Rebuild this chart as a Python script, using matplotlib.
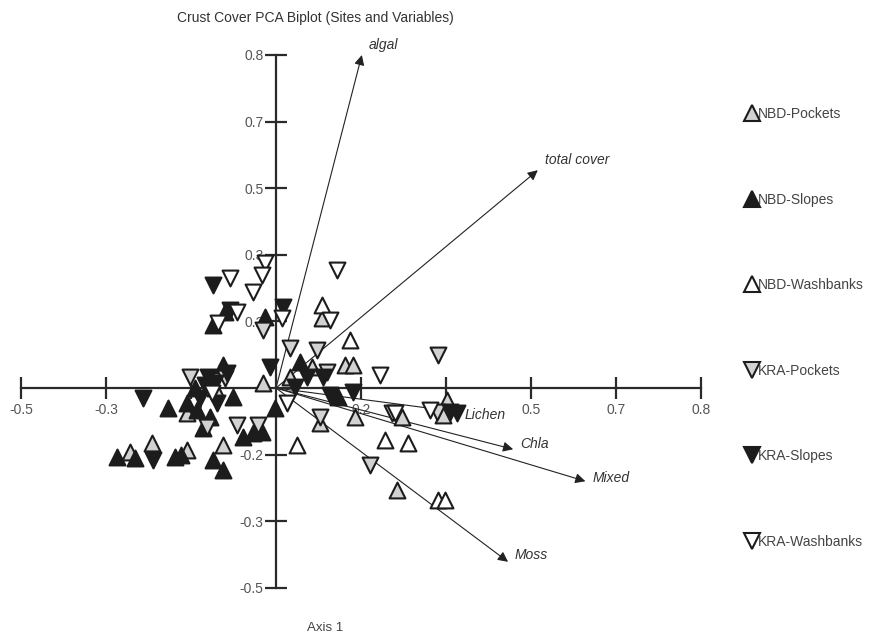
import matplotlib

matplotlib.use("Agg")
import matplotlib.pyplot as plt
from matplotlib.lines import Line2D

plt.rcParams["font.family"] = ["Liberation Sans", "DejaVu Sans"]

# site scores (axis 1, axis 2)
nbd_pockets_x = [-0.172, -0.146, -0.105, -0.105, -0.062, -0.015, 0.054, 0.016, 0.042, 0.081,
                 0.091, 0.052, 0.093, 0.148, 0.201, 0.196, 0.142, -0.072]
nbd_pockets_y = [-0.096, -0.083, -0.093, -0.038, -0.086, 0.008, 0.105, 0.017, 0.032, 0.035,
                 0.035, -0.053, -0.044, -0.044, -0.018, -0.041, -0.153, 0.000]

nbd_slopes_x = [-0.187, -0.166, -0.127, -0.119, -0.112, -0.105, -0.093, -0.086, -0.078, -0.074,
                -0.062, -0.062, -0.060, -0.074, -0.051, -0.039, -0.027, -0.016, -0.013, -0.001,
                0.028, 0.073, -0.095]
nbd_slopes_y = [-0.104, -0.105, -0.030, -0.104, -0.101, -0.023, -0.033, -0.060, -0.044, -0.108,
                -0.123, 0.035, 0.114, 0.095, -0.014, -0.074, -0.068, -0.066, 0.107, -0.030,
                0.039, -0.014, 0.000]

nbd_wash_x = [0.025, 0.054, 0.087, 0.128, 0.155, 0.191, 0.199]
nbd_wash_y = [-0.086, 0.125, 0.072, -0.078, -0.083, -0.168, -0.168]

kra_pockets_x = [-0.101, -0.060, -0.081, -0.046, -0.021, -0.015, 0.016, 0.048, 0.060, 0.052,
                 0.136, 0.189, 0.191, 0.111]
kra_pockets_y = [0.017, 0.015, -0.059, -0.056, -0.056, 0.087, 0.060, 0.057, 0.024, -0.044,
                 -0.038, -0.036, 0.050, -0.116]

kra_slopes_x = [-0.156, -0.145, -0.080, -0.058, -0.089, -0.069, -0.074, -0.054, 0.008, -0.007,
                0.036, 0.055, 0.022, 0.064, 0.091, 0.205, 0.213, -0.072, -0.083]
kra_slopes_y = [-0.015, -0.108, 0.017, 0.023, -0.015, -0.023, 0.155, 0.117, 0.122, 0.032,
                0.017, 0.017, 0.002, -0.011, -0.006, -0.036, -0.038, 0.008, 0.005]

kra_wash_x = [-0.013, -0.016, -0.054, -0.027, -0.046, -0.068, 0.007, 0.072, 0.064, 0.122,
              0.013, -0.075, 0.181, 0.140]
kra_wash_y = [0.188, 0.170, 0.165, 0.144, 0.114, 0.098, 0.105, 0.177, 0.102, 0.020,
              -0.023, -0.008, -0.033, -0.038]

# variable loadings
var_names = ["algal", "total cover", "Lichen", "Chla", "Mixed", "Moss"]
var_x = [0.101, 0.308, 0.214, 0.279, 0.364, 0.273]
var_y = [0.500, 0.327, -0.036, -0.092, -0.140, -0.261]

x_ticks = [-0.3, -0.2, -0.1, 0.1, 0.2, 0.3, 0.4, 0.5]
x_labels = ["-0.5", "-0.3", "-0.2", "0.2", "0.3", "0.5", "0.7", "0.8"]
y_ticks = [-0.3, -0.2, -0.1, 0.1, 0.2, 0.3, 0.4, 0.5]
y_labels = ["-0.5", "-0.3", "-0.2", "0.2", "0.3", "0.5", "0.7", "0.8"]

groups = [
    ("NBD-Pockets", nbd_pockets_x, nbd_pockets_y, "^", "#d2d2d2"),
    ("NBD-Slopes", nbd_slopes_x, nbd_slopes_y, "^", "#1c1c1c"),
    ("NBD-Washbanks", nbd_wash_x, nbd_wash_y, "^", "white"),
    ("KRA-Pockets", kra_pockets_x, kra_pockets_y, "v", "#d2d2d2"),
    ("KRA-Slopes", kra_slopes_x, kra_slopes_y, "v", "#1c1c1c"),
    ("KRA-Washbanks", kra_wash_x, kra_wash_y, "v", "white"),
]

# label nudges (points) so names sit where the original put them
label_dy = {"algal": 2, "total cover": 2, "Lichen": -2, "Chla": 4, "Mixed": 2, "Moss": 5}

W, H = 878, 639
fig = plt.figure(figsize=(W / 100, H / 100), dpi=100)
# axis 0.1 units = 85 px horizontally, 66.6 px vertically; origin at (276, 388)
left_px, right_px, top_px, bottom_px = 12, 712, 48, 600
ax = fig.add_axes([left_px / W, 1 - bottom_px / H, (right_px - left_px) / W,
                   (bottom_px - top_px) / H])
ax.set_xlim((left_px - 276) / 850, (right_px - 276) / 850)
ax.set_ylim((388 - bottom_px) / 666, (388 - top_px) / 666)
ax.patch.set_visible(False)

for side in ("top", "right"):
    ax.spines[side].set_visible(False)
ax.spines["left"].set_position(("data", 0))
ax.spines["bottom"].set_position(("data", 0))
ax.spines["left"].set_bounds(-0.3, 0.5)
ax.spines["bottom"].set_bounds(-0.3, 0.5)
for side in ("left", "bottom"):
    ax.spines[side].set_linewidth(1.6)
    ax.spines[side].set_color("#2a2a2a")

ax.set_xticks(x_ticks)
ax.set_xticklabels(x_labels)
ax.set_yticks(y_ticks)
ax.set_yticklabels(y_labels)
ax.tick_params(direction="inout", length=16, width=1.6, color="#2a2a2a",
               labelsize=10, labelcolor="#555555", pad=1)
ax.tick_params(axis="x", pad=3)

for name, tx, ty in zip(var_names, var_x, var_y):
    ax.annotate("", xy=(tx, ty), xytext=(0, 0),
                arrowprops=dict(arrowstyle="-|>", lw=0.8, color="#222222",
                                mutation_scale=15, shrinkA=0, shrinkB=0),
                zorder=2)
    above = name in ("algal", "total cover")
    ax.annotate(name, xy=(tx, ty), xytext=(5, label_dy[name]), textcoords="offset points",
                fontsize=10, style="italic", color="#333333",
                va="bottom" if above else "center", zorder=2)

handles = []
for name, gx, gy, marker, face in groups:
    ax.scatter(gx, gy, marker=marker, s=130, facecolor=face, edgecolor="#1c1c1c",
               linewidths=1.5, zorder=3, clip_on=False)
    handles.append(Line2D([], [], linestyle="none", marker=marker, markersize=11,
                          markerfacecolor=face, markeredgecolor="#1c1c1c",
                          markeredgewidth=1.5, label=name))

fig.legend(handles=handles, loc="upper left", bbox_to_anchor=(746 / W, 1 - 107 / H),
           frameon=False, fontsize=10, labelcolor="#444444", handlelength=0.8,
           handletextpad=0.05, labelspacing=5.15, borderpad=0, borderaxespad=0)

fig.text(315 / W, 1 - 18 / H, "Crust Cover PCA Biplot (Sites and Variables)",
         ha="center", va="center", fontsize=10, color="#333333")
fig.text(325 / W, 1 - 628 / H, "Axis 1", ha="center", va="center", fontsize=9.5,
         color="#444444")

fig.savefig("out.png", dpi=100)
